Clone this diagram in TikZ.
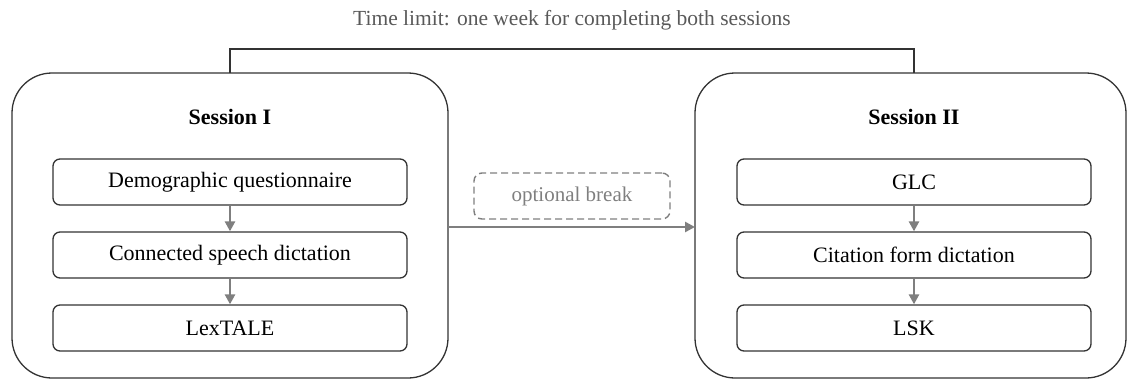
\documentclass[tikz,border=0pt]{standalone}
\usepackage{fontspec}
\setmainfont{Liberation Serif}
\usetikzlibrary{arrows.meta}
\definecolor{edge}{HTML}{333333}
\definecolor{flow}{HTML}{7F7F7F}
\definecolor{note}{HTML}{595959}
\tikzset{
  session/.style={draw=edge, line width=1.3pt, rounded corners=40pt},
  task/.style={draw=edge, line width=1.3pt, rounded corners=7pt, minimum width=354pt,
    minimum height=46pt, inner sep=0pt, font=\fontsize{22}{26}\selectfont},
  head/.style={font=\bfseries\fontsize{22}{26}\selectfont, inner sep=0pt},
  flowarrow/.style={draw=flow, line width=2.6pt, -{Triangle[length=10pt,width=10pt]}},
  pause/.style={draw=flow, line width=1.4pt, dashed, dash pattern=on 7pt off 4pt,
    rounded corners=8pt, minimum width=196pt, minimum height=46pt, text=flow,
    font=\fontsize{21}{25}\selectfont},
}
\begin{document}
\begin{tikzpicture}[x=1pt,y=-1pt]
\useasboundingbox (0,0) rectangle (1128,380);

% time limit label and bracket
\node[text=note, font=\fontsize{21.5}{25}\selectfont] (limit) at (572,20) {Time limit: one week for completing both sessions};

% session frames
\draw[session] (12,73) rectangle (448,378);
\draw[session] (695,73) rectangle (1126,378);
\coordinate (s1top) at (230,73);
\coordinate (s2top) at (914,73);
\coordinate (s1right) at (448,227);
\coordinate (s2left) at (695,227);
\draw[draw=edge, line width=1.3pt] (s1top) -- (230,49) -- (914,49) -- (s2top);

% session I
\node[head] (h1) at (230,117) {Session I};
\node[task] (d1) at (230,182) {Demographic questionnaire};
\node[task] (c1) at (230,255) {Connected speech dictation};
\node[task] (l1) at (230,328) {LexTALE};
\draw[flowarrow] (d1) -- (c1);
\draw[flowarrow] (c1) -- (l1);

% session II
\node[head] (h2) at (914,117) {Session II};
\node[task] (g2) at (914,182) {GLC};
\node[task] (c2) at (914,255) {Citation form dictation};
\node[task] (l2) at (914,328) {LSK};
\draw[flowarrow] (g2) -- (c2);
\draw[flowarrow] (c2) -- (l2);

% break between sessions
\node[pause] (brk) at (572,196) {optional break};
\draw[flowarrow] (s1right) -- (s2left);
\end{tikzpicture}
\end{document}
